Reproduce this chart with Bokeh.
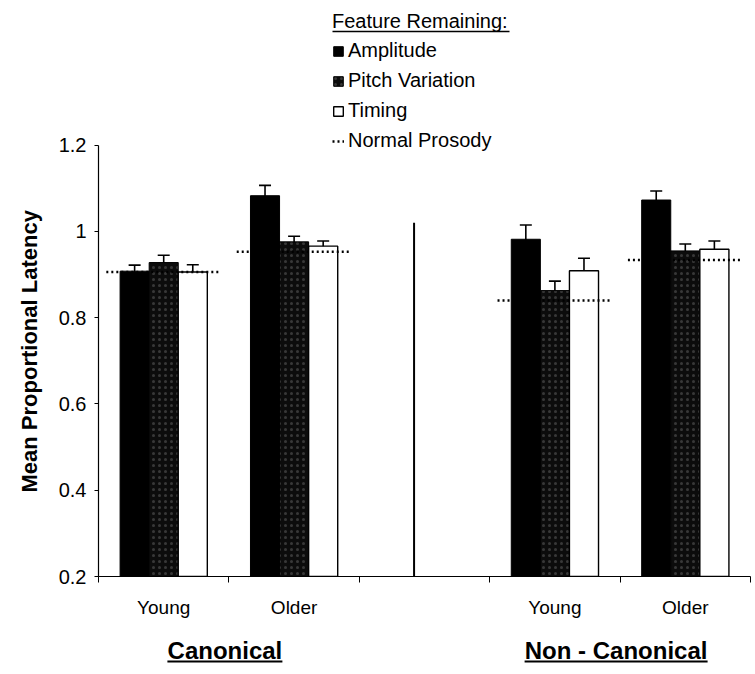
from bokeh.plotting import figure
from bokeh.layouts import column
from bokeh.models import (Range1d, FixedTicker, LinearAxis, Whisker, TeeHead,
                          ColumnDataSource, Legend, LegendItem, Title)
from bokeh.core.properties import value
from bokeh.embed import file_html
from bokeh.resources import INLINE

# ---------------- data ----------------
ages = ["Young", "Older", "Young", "Older"]
slot_index = [0, 1, 3, 4]          # slot 2 is the empty gap between the groups
groups = ["Canonical", "Non - Canonical"]
n_slots = 5

amplitude = [0.908, 1.083, 0.982, 1.073]
amplitude_err = [0.014, 0.024, 0.033, 0.021]
pitch = [0.928, 0.976, 0.863, 0.955]
pitch_err = [0.017, 0.013, 0.022, 0.016]
timing = [0.906, 0.966, 0.909, 0.959]
timing_err = [0.017, 0.012, 0.029, 0.019]
normal_prosody = [0.906, 0.953, 0.840, 0.934]

y_ticks = [0.2, 0.4, 0.6, 0.8, 1.0, 1.2]
y_tick_labels = ["0.2", "0.4", "0.6", "0.8", "1", "1.2"]
separator_x = 2.42
separator_top = 1.02

# ---------------- layout ----------------
W = 755
H1, H2 = 620, 54                 # main plot, group-label strip
BL, BR = 98, 5
FRAME_BOTTOM = 577               # canvas y of the x axis
AXIS_PX = 432                    # pixels per 1.0 on the y axis
FONT = "Liberation Sans"
bw = 0.223
centers = [i + 0.5 for i in slot_index]
y0 = y_ticks[0]
px_per_unit = (W - BL - BR) / n_slots
y_top = y0 + FRAME_BOTTOM / AXIS_PX

def canvas_to_y(cy):
    return y0 + (FRAME_BOTTOM - cy) / AXIS_PX

p = figure(width=W, height=H1, x_range=Range1d(0, n_slots), y_range=Range1d(y0, y_top),
           x_axis_type=None, y_axis_type=None, output_backend="svg", toolbar_location=None,
           min_border_left=BL, min_border_right=BR, min_border_top=0,
           min_border_bottom=H1 - FRAME_BOTTOM)
p.outline_line_color = None
p.xgrid.visible = False
p.ygrid.visible = False

def src(offset, vals, errs=None):
    d = dict(x=[c + offset for c in centers], top=vals)
    if errs is not None:
        d["upper"] = [v + e for v, e in zip(vals, errs)]
        d["lower"] = [v - e for v, e in zip(vals, errs)]
    return ColumnDataSource(d)

s_amp = src(-bw, amplitude, amplitude_err)
s_pit = src(0, pitch, pitch_err)
s_tim = src(bw, timing, timing_err)

r_amp = p.vbar(x="x", top="top", bottom=y0, width=bw, source=s_amp,
               fill_color="black", line_color="black", line_width=1)
r_pit = p.vbar(x="x", top="top", bottom=y0, width=bw, source=s_pit,
               fill_color="#0c0c0c", line_color="black", line_width=1,
               hatch_pattern="dot", hatch_color="#383838", hatch_scale=6, hatch_weight=1)
r_tim = p.vbar(x="x", top="top", bottom=y0, width=bw, source=s_tim,
               fill_color="white", line_color="black", line_width=1.4)

for s in (s_amp, s_pit, s_tim):
    p.add_layout(Whisker(source=s, base="x", upper="upper", lower="lower",
                         line_color="black", line_width=1.6,
                         upper_head=TeeHead(size=12, line_width=1.6, line_color="black"),
                         lower_head=TeeHead(size=12, line_width=1.6, line_color="black")))

half = 0.44
s_np = ColumnDataSource(dict(x0=[c - half for c in centers], x1=[c + half for c in centers],
                             y=normal_prosody))
r_np = p.segment(x0="x0", x1="x1", y0="y", y1="y", source=s_np,
                 line_color="black", line_width=2.5, line_dash="2 3")

p.segment(x0=[separator_x], x1=[separator_x], y0=[y0], y1=[separator_top],
          line_color="black", line_width=2)

# ---------------- axes ----------------
yaxis = LinearAxis(ticker=FixedTicker(ticks=y_ticks), bounds=(y_ticks[0], y_ticks[-1]),
                   major_label_overrides=dict(zip(y_ticks, y_tick_labels)),
                   major_label_text_font=FONT, major_label_text_font_size="20px",
                   major_label_text_color="black",
                   major_label_standoff=8, major_tick_out=4, major_tick_in=0,
                   minor_tick_line_color=None, axis_line_width=1.2)
p.add_layout(yaxis, "left")
p.add_layout(Title(text="Mean Proportional Latency", align="left", offset=84,
                   text_font=FONT, text_font_size="22px", text_font_style="bold",
                   text_color="black", standoff=28), "left")

boundaries = list(range(n_slots + 1))
xaxis = LinearAxis(ticker=FixedTicker(ticks=centers, minor_ticks=boundaries),
                   major_label_overrides=dict(zip(centers, ages)),
                   major_label_text_font=FONT, major_label_text_font_size="19px",
                   major_label_text_color="black",
                   major_label_standoff=14, major_tick_out=0, major_tick_in=0,
                   major_tick_line_color=None,
                   minor_tick_out=6, minor_tick_in=0, minor_tick_line_color="black",
                   axis_line_width=1.2)
p.add_layout(xaxis, "below")

# ---------------- legend ----------------
legend = Legend(items=[LegendItem(label="Amplitude", renderers=[r_amp]),
                       LegendItem(label="Pitch Variation", renderers=[r_pit]),
                       LegendItem(label="Timing", renderers=[r_tim]),
                       LegendItem(label="Normal Prosody", renderers=[r_np])],
                title="Feature Remaining:", location=(234, 424),
                glyph_width=12, glyph_height=12, label_height=22, spacing=7,
                padding=0, margin=0, border_line_color=None, background_fill_alpha=0,
                label_text_font=FONT, label_text_font_size="20px", label_standoff=4,
                label_text_color="black",
                title_text_font=FONT, title_text_font_size="20px", title_text_color="black",
                title_text_font_style="normal", title_standoff=6)
p.add_layout(legend)

# underline of the legend title
title_left, title_w = 332, 177
p.segment(x0=[(title_left - BL) / px_per_unit], x1=[(title_left - BL + title_w) / px_per_unit],
          y0=[canvas_to_y(31)], y1=[canvas_to_y(31)], line_color="black", line_width=1.6)

# ---------------- group labels strip ----------------
p2 = figure(width=W, height=H2, x_range=p.x_range, y_range=Range1d(H2, 0),
            x_axis_type=None, y_axis_type=None, output_backend="svg", toolbar_location=None,
            min_border_left=BL, min_border_right=BR, min_border_top=0, min_border_bottom=0)
p2.outline_line_color = None
p2.xgrid.visible = False
p2.ygrid.visible = False

group_centers = [(centers[0] + centers[1]) / 2, (centers[2] + centers[3]) / 2]
shift = -4 / px_per_unit
label_x = [gc + shift for gc in group_centers]
label_y = 650 - H1
p2.text(x=label_x, y=[label_y] * 2, text=groups, text_align="center",
        text_baseline="middle", text_font=value(FONT), text_font_size="24px",
        text_font_style="bold", text_color="black")
group_text_w = [115, 183]
ul_y = 661 - H1
p2.segment(x0=[gx - tw / 2 / px_per_unit for gx, tw in zip(label_x, group_text_w)],
           x1=[gx + tw / 2 / px_per_unit for gx, tw in zip(label_x, group_text_w)],
           y0=[ul_y] * 2, y1=[ul_y] * 2, line_color="black", line_width=1.8)

layout = column(p, p2, spacing=0)
open("out.html", "w").write(file_html(layout, INLINE))
